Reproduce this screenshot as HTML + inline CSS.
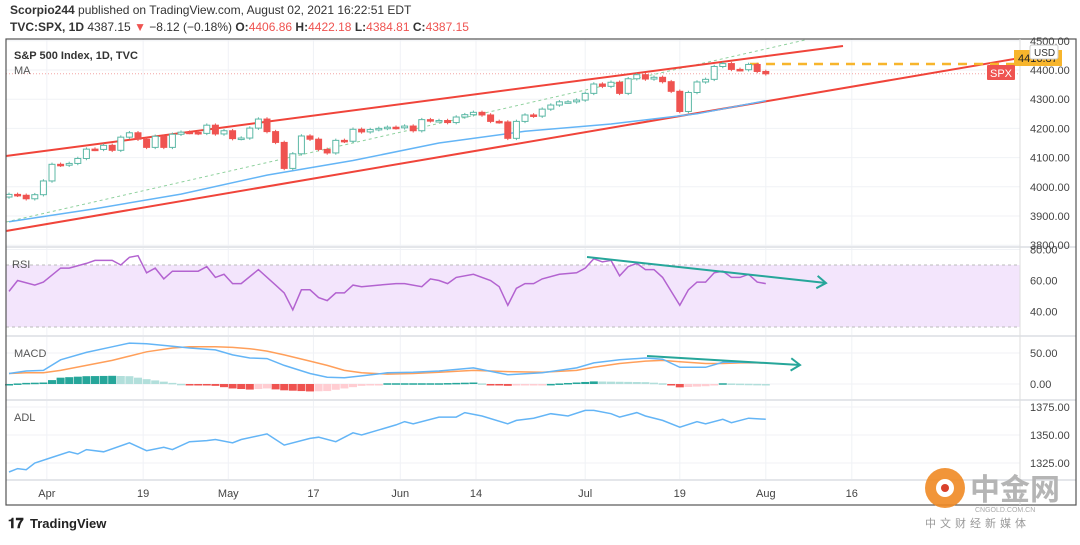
<!DOCTYPE html>
<html><head><meta charset="utf-8"><style>
body{margin:0;background:#fff;width:1080px;height:540px;overflow:hidden;font-family:"Liberation Sans","Noto Sans CJK SC",sans-serif}
svg text{font-family:"Liberation Sans","Noto Sans CJK SC",sans-serif}
</style></head><body>
<svg id="c" width="1080" height="540">
<text x="10" y="14" font-size="12" fill="#333"><tspan font-weight="bold">Scorpio244</tspan> published on TradingView.com, August 02, 2021 16:22:51 EDT</text>
<text x="10" y="31" font-size="12" fill="#333"><tspan font-weight="bold">TVC:SPX, 1D</tspan> 4387.15 <tspan fill="#ef5350">▼</tspan> −8.12 (−0.18%) <tspan font-weight="bold">O:</tspan><tspan fill="#ef5350">4406.86</tspan> <tspan font-weight="bold">H:</tspan><tspan fill="#ef5350">4422.18</tspan> <tspan font-weight="bold">L:</tspan><tspan fill="#ef5350">4384.81</tspan> <tspan font-weight="bold">C:</tspan><tspan fill="#ef5350">4387.15</tspan></text>
<g id="grid"></g>
<g id="marks"></g>
<rect x="6" y="39" width="1070" height="466" fill="none" stroke="#555" stroke-width="1.2"/>
<line x1="1020" y1="39" x2="1020" y2="505" stroke="#ddd"/>
<text x="14" y="59" font-size="11" font-weight="bold" fill="#333">S&amp;P 500 Index, 1D, TVC</text>
<text x="14" y="74" font-size="11" fill="#555">MA</text>
<text x="12" y="268" font-size="11" fill="#555">RSI</text>
<text x="14" y="357" font-size="11" fill="#555">MACD</text>
<text x="14" y="421" font-size="11" fill="#555">ADL</text>
<g><text x="8" y="528" font-size="14" font-weight="bold" fill="#222">𝟏𝟕</text><text x="30" y="528" font-size="13" font-weight="bold" fill="#222">TradingView</text></g>
<g>
<circle cx="945" cy="488" r="20" fill="#f08a24" opacity="0.9"/><circle cx="945" cy="488" r="9" fill="#fff"/><circle cx="945" cy="488" r="4" fill="#d9412b"/>
<text x="970" y="500" font-size="30" font-weight="bold" fill="#b5b5b5">中金网</text>
<text x="975" y="512" font-size="7" fill="#aaa">CNGOLD.COM.CN</text>
<text x="925" y="527" font-size="11" fill="#999" letter-spacing="4">中文财经新媒体</text>
</g>
</svg>
<script>
const closes=[3974,3971,3959,3973,4020,4077,4074,4080,4097,4129,4128,4142,4125,4170,4185,4163,4135,4173,4135,4180,4187,4186,4183,4211,4181,4192,4165,4167,4201,4232,4189,4152,4063,4113,4174,4163,4128,4116,4159,4156,4197,4188,4196,4200,4204,4202,4208,4192,4230,4226,4227,4220,4239,4247,4255,4246,4224,4222,4166,4224,4246,4242,4266,4280,4291,4291,4297,4320,4352,4344,4358,4320,4370,4384,4369,4375,4360,4327,4258,4323,4359,4368,4412,4422,4402,4401,4419,4395,4387];
const firstOpen=3965;
const maDay=[0,10,20,30,40,50,60,70,80,88];
const maVal=[3880,3925,3975,4040,4090,4150,4190,4215,4250,4295];
const rsiDay=[0,1,3,4,6,7,9,10,12,13,14,15,16,17,18,19,22,23,24,25,26,27,29,31,32,33,34,35,36,37,38,39,40,41,43,45,46,48,49,50,51,52,54,56,57,58,59,60,61,62,64,66,67,68,69,70,71,72,73,74,75,76,78,79,80,81,82,83,84,85,86,87,88];
const rsiVal=[53,60,57,59,68,68,71,73,73,70,75,76,65,68,61,66,66,69,62,64,58,58,67,57,52,41,54,54,49,47,52,52,57,56,57,58,58,56,61,60,58,62,64,60,56,44,55,58,58,61,64,65,68,74,72,73,63,69,71,67,67,62,44,54,59,59,65,66,62,62,64,59,58];
const macdDay=[0,2,4,6,9,12,14,16,19,21,24,26,28,30,32,35,37,39,41,44,47,50,54,58,62,66,68,71,74,76,78,81,83,85,88];
const macdVal=[17,21,22,39,51,60,66,65,61,58,55,47,42,41,30,17,11,10,13,18,19,21,26,15,18,26,34,39,42,40,27,27,35,35,34];
const signalVal=[17,18,18,22,30,38,45,52,58,60,60,59,57,53,47,37,30,22,18,16,17,19,22,20,19,22,27,33,37,38,36,33,33,34,34];
const adlDay=[0,1,2,3,5,7,8,9,11,14,16,18,19,21,23,24,26,27,30,31,32,35,36,38,40,41,45,46,47,50,52,53,55,58,59,61,63,65,67,68,70,71,73,74,76,78,80,81,83,84,86,88];
const adlVal=[1317,1320,1319,1325,1330,1335,1333,1337,1335,1343,1336,1339,1337,1344,1345,1346,1343,1346,1351,1346,1341,1347,1348,1344,1352,1350,1359,1362,1360,1366,1366,1370,1367,1360,1363,1365,1369,1367,1372,1372,1369,1366,1370,1367,1363,1357,1362,1360,1364,1361,1365,1364];
const priceTicks=[4500,4400,4300,4200,4100,4000,3900,3800];
const rsiTicks=[80,60,40];
const macdTicks=[50,0];
const adlTicks=[1375,1350,1325];
const dateLabels=["Apr","19","May","17","Jun","14","Jul","19","Aug","16"];
const dateDays=[4.4,15.6,25.5,35.4,45.5,54.3,67,78,88,98];

const NS="http://www.w3.org/2000/svg";
const G=document.getElementById('grid'),M=document.getElementById('marks'),S=document.getElementById('c');
function mk(p,tag,at){const e=document.createElementNS(NS,tag);for(const k in at)e.setAttribute(k,at[k]);p.appendChild(e);return e;}
const X=d=>9+8.6*d;
const YP=p=>70+(4400-p)*0.292;
const YR=v=>265+(70-v)*1.55;
const YM=v=>384-v*0.62;
const YA=v=>435-(v-1350)*1.12;

dateDays.forEach((d,i)=>{const l=mk(G,'line',{x1:X(d),x2:X(d),y1:39,y2:480,stroke:'#f0f2f6'});


const t=mk(S,'text',{x:X(d),y:497,'font-size':11,fill:'#444','text-anchor':'middle'});t.textContent=dateLabels[i];

});
function hAxis(ticks,Y,fmt){ticks.forEach(v=>{const l=mk(G,'line',{x1:6,x2:1020,y1:Y(v),y2:Y(v),stroke:'#f0f2f6'});


const t=mk(S,'text',{x:1030,y:Y(v)+4,'font-size':11,fill:'#444'});t.textContent=fmt(v);

});}
hAxis(priceTicks,YP,v=>v.toFixed(2));hAxis(rsiTicks,YR,v=>v.toFixed(2));hAxis(macdTicks,YM,v=>v.toFixed(2));hAxis(adlTicks,YA,v=>v.toFixed(2));
[247,336,400,480].forEach(y=>{const l=mk(G,'line',{x1:6,x2:1076,y1:y,y2:y,stroke:'#e4e6ea','stroke-width':2});

});

const band=mk(M,'rect',{x:6,y:YR(70),width:1014,height:YR(30)-YR(70),fill:'#f3e5fc'});


[70,30].forEach(v=>{const l=mk(M,'line',{x1:6,x2:1020,y1:YR(v),y2:YR(v),stroke:'#bbb','stroke-dasharray':'3 3'});

});

const pl=mk(M,'line',{x1:6,x2:1020,y1:YP(closes[closes.length-1]),y2:YP(closes[closes.length-1]),stroke:'#f4a5a5','stroke-dasharray':'1 2'});



function ln(x1,y1,x2,y2,st,w,dash,name){const l=mk(M,'line',{x1,y1,x2,y2,stroke:st,'stroke-width':w});if(dash)l.setAttribute('stroke-dasharray',dash);

return l;}
ln(6,222,805,40,'#8fd19e',1,'3 3','green-dotted-trendline');
ln(6,156,843,46,'#f0443a',2,null,'upper-channel-line');
ln(6,231,1020,58,'#f0443a',2,null,'lower-channel-line');
ln(750,64,1020,64,'#f7b52c',2.5,'9 7','horizontal-dashed-level');

function path(days,vals,Y,st,w,name){let d='';days.forEach((dd,i)=>{d+=(i?'L':'M')+X(dd).toFixed(1)+' '+Y(vals[i]).toFixed(1);});
const p=mk(M,'path',{d,fill:'none',stroke:st,'stroke-width':w});

}
path(maDay,maVal,YP,'#64b5f6',1.5,'moving-average-line');

closes.forEach((c,i)=>{const o=i?closes[i-1]:firstOpen;const up=c>=o;const x=X(i);
const hi=Math.max(o,c)+6,lo=Math.min(o,c)-6;
const col=up?'#5cb8a6':'#ef5350';
const w=mk(M,'line',{x1:x,x2:x,y1:YP(hi),y2:YP(lo),stroke:col,'stroke-width':1});


const yt=YP(Math.max(o,c)),h=Math.max(1.5,YP(Math.min(o,c))-yt);
const r=mk(M,'rect',{x:x-3,y:yt,width:6,height:h,fill:up?'#fff':col,stroke:col,'stroke-width':1});

});

path(rsiDay,rsiVal,YR,'#b363d0',1.5,'rsi-line');

function interp(days,vals,d){for(let i=1;i<days.length;i++){if(d<=days[i]){const t=(d-days[i-1])/(days[i]-days[i-1]);return vals[i-1]+t*(vals[i]-vals[i-1]);}}return vals[vals.length-1];}
let prev=0;for(let d=0;d<=88;d++){const h=interp(macdDay,macdVal,d)-interp(macdDay,signalVal,d);
const col=h>=0?(h>=prev?'#26a69a':'#b2dfdb'):(h<prev?'#ef5350':'#ffcdd2');prev=h;
const hs=h*0.6;
const y1=Math.min(YM(0),YM(hs)),hh=Math.max(1.5,Math.abs(YM(hs)-YM(0)));
const b=mk(M,'rect',{x:X(d)-4,y:y1,width:8,height:hh,fill:col});

}
path(macdDay,signalVal,YM,'#ff9f5a',1.5,'macd-signal-line');
path(macdDay,macdVal,YM,'#64b5f6',1.5,'macd-line');

path(adlDay,adlVal,YA,'#64b5f6',1.5,'adl-line');

function arrow(x1,y1,x2,y2,name){const g=mk(M,'g',{});


mk(g,'line',{x1,y1,x2,y2,stroke:'#26a69a','stroke-width':2});
const a=Math.atan2(y2-y1,x2-x1),L=11;
mk(g,'path',{d:`M${x2-L*Math.cos(a-0.6)} ${y2-L*Math.sin(a-0.6)}L${x2} ${y2}L${x2-L*Math.cos(a+0.6)} ${y2-L*Math.sin(a+0.6)}`,fill:'none',stroke:'#26a69a','stroke-width':2});}
arrow(587,257,826,283,'rsi-divergence-arrow');
arrow(647,356,800,365,'macd-divergence-arrow');

const yb=mk(S,'rect',{x:1014,y:50,width:48,height:16,fill:'#f7b52c'});


const yt2=mk(S,'text',{x:1018,y:62,'font-size':11,fill:'#222'});yt2.textContent='4416.87';


const ub=mk(S,'rect',{x:1030,y:45,width:28,height:14,fill:'#fff',stroke:'#ccc',rx:2});


const ut=mk(S,'text',{x:1034,y:56,'font-size':10,fill:'#333'});ut.textContent='USD';


const sb=mk(S,'rect',{x:987,y:65,width:28,height:15,fill:'#ef5350',rx:1});


const st=mk(S,'text',{x:990,y:77,'font-size':11,fill:'#fff'});st.textContent='SPX';


</script>
</body></html>
